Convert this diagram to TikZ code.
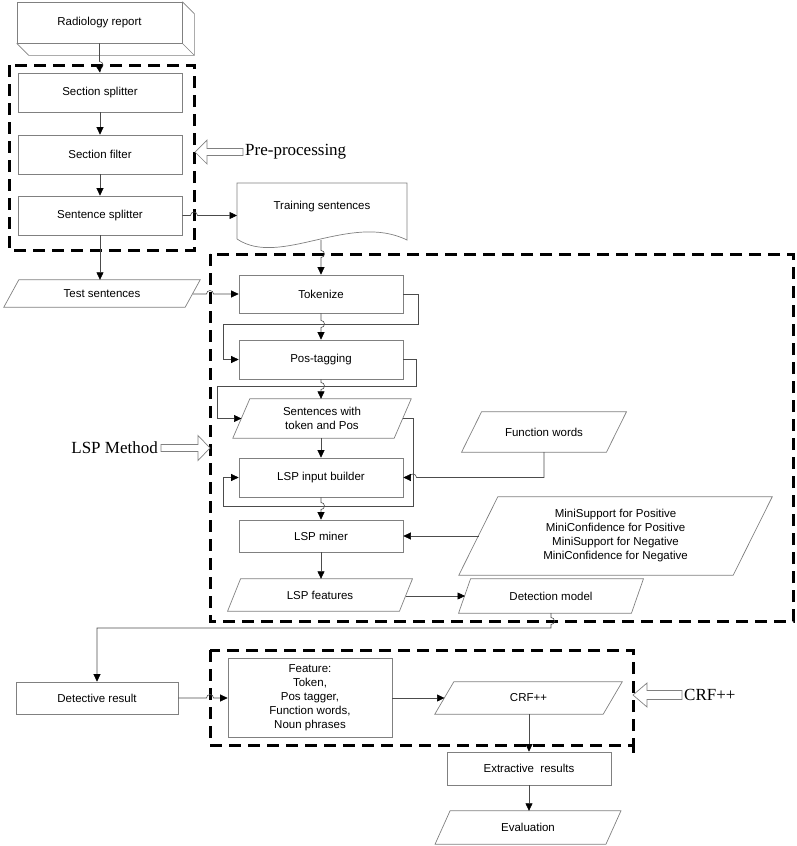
\documentclass[tikz,border=0pt]{standalone}
\usepackage{fontspec}
\setmainfont{Liberation Sans}
\newfontfamily\tms{Liberation Serif}
\usetikzlibrary{arrows.meta,calc}
\definecolor{boxc}{gray}{0.5}
\definecolor{connc}{gray}{0.3}
\newcommand{\parab}[2]{\draw[boxline] ([xshift=#2]#1.north west) -- ([xshift=#2]#1.north east) -- ([xshift=-#2]#1.south east) -- ([xshift=-#2]#1.south west) -- cycle;}
\tikzset{
  boxline/.style={draw=boxc,line width=0.7pt},
  txt/.style={font=\fontsize{11.5}{14}\selectfont,align=center,inner sep=0pt},
  procbox/.style={txt,draw=boxc,line width=0.7pt,rectangle,minimum width=#1},
  procbox/.default=164pt,
  paranode/.style={txt,rectangle,draw=none},
  conn/.style={draw=connc,line width=0.6pt,-{Triangle[length=7.5pt,width=7pt,color=black]}},
  plain/.style={draw=connc,line width=0.6pt},
  groupbox/.style={draw=black,line width=3pt,dash pattern=on 12pt off 7pt},
  blockarrow/.style={draw=boxc,fill=white,line width=0.7pt},
  biglabel/.style={font=\tms\fontsize{17}{20}\selectfont,inner sep=0pt}
}
\begin{document}
\begin{tikzpicture}[x=1pt,y=-1pt]
\useasboundingbox (0,0) rectangle (797,846);

% group boxes
\draw[groupbox] (9,65) rectangle (194,250);
\draw[groupbox] (210,254) rectangle (793,621);
\draw[groupbox] (210,650) rectangle (633,745);
\draw[groupbox] (633,745) -- (633,753);

% radiology report (3D box)
\node[procbox=165pt,minimum height=41pt] (rad) at (99.5,22.5) {Radiology report};
\draw[boxline] (rad.north east) -- ++(12pt,-12pt) -- ([shift={(12pt,-12pt)}]rad.south east) -- ([shift={(12pt,-12pt)}]rad.south west) -- (rad.south west);
\draw[boxline] (rad.south east) -- ++(12pt,-12pt);

% pre-processing
\node[procbox,minimum height=39pt] (ss) at (100,92.5) {Section splitter};
\node[procbox,minimum height=39pt] (sf) at (100,154.5) {Section filter};
\node[procbox,minimum height=39pt] (sent) at (100,215.5) {Sentence splitter};

% training sentences (document)
\draw[boxline] (237,239) -- (237,183) -- (407,183) -- (407,240) .. controls (350,212) and (280,268) .. (237,239);
\node[txt] (train) at (322,207) {Training sentences};
\coordinate (trainbot) at (321,240);
\coordinate (trainleft) at (237,215.5);

% test sentences
\node[paranode,minimum width=181pt,minimum height=27pt] (test) at (102,293.5) {Test sentences};
\parab{test}{7.5pt}

% LSP part
\node[procbox,minimum height=38pt] (tok) at (321,294) {Tokenize};
\node[procbox,minimum height=39pt] (pos) at (321,359.5) {Pos-tagging};
\node[paranode,minimum width=161pt,minimum height=39pt] (swt) at (322,418.5) {Sentences with\\token and Pos};
\parab{swt}{8.5pt}
\node[procbox,minimum height=39pt] (lib) at (321,477.5) {LSP input builder};
\node[procbox,minimum height=32pt] (miner) at (321,536) {LSP miner};
\node[paranode,minimum width=171.5pt,minimum height=32pt] (feat) at (320,595) {LSP features};
\parab{feat}{6.5pt}
\node[paranode,minimum width=144.5pt,minimum height=40pt] (fw) at (544,432) {Function words};
\parab{fw}{10pt}
\node[paranode,minimum width=274pt,minimum height=78pt] (mini) at (615.5,536) {MiniSupport for Positive\\MiniConfidence for Positive\\MiniSupport for Negative\\MiniConfidence for Negative};
\parab{mini}{19.5pt}
\node[paranode,minimum width=172.5pt,minimum height=34pt] (det) at (551,596) {Detection model};
\parab{det}{6pt}

% bottom part
\node[procbox=162pt,minimum height=32pt] (dres) at (97,698) {Detective result};
\node[procbox,minimum height=79pt] (featb) at (310,697.5) {Feature:\\Token,\\Pos tagger,\\Function words,\\Noun phrases};
\node[paranode,minimum width=168pt,minimum height=32pt] (crfp) at (528.5,698) {CRF++};
\parab{crfp}{9.5pt}
\node[procbox,minimum height=33pt] (ext) at (529,768.5) {Extractive\ \ results};
\node[paranode,minimum width=170.5pt,minimum height=33pt] (eval) at (528,827.5) {Evaluation};
\parab{eval}{7.5pt}

% block arrows and labels
\draw[blockarrow] (195,152) -- (207,140) -- (207,148.5) -- (243,148.5) -- (243,155.5) -- (207,155.5) -- (207,164) -- cycle;
\node[biglabel,anchor=west] (prelab) at (245,152) {Pre-processing};
\draw[blockarrow] (210,448) -- (198,435.5) -- (198,444.5) -- (161,444.5) -- (161,451.5) -- (198,451.5) -- (198,460.5) -- cycle;
\node[biglabel,anchor=east] (lsplab) at (158,448) {LSP Method};
\draw[blockarrow] (633,695) -- (647,683) -- (647,690.5) -- (682,690.5) -- (682,699.5) -- (647,699.5) -- (647,707) -- cycle;
\node[biglabel,anchor=west] (crflab) at (684,695) {CRF++};

% connectors
\draw[conn] (rad.south) -- (99.5,61.5) arc[start angle=90,end angle=-90,radius=3.5pt] -- (ss.north);
\draw[conn] (ss.south) -- (sf.north);
\draw[conn] (sf.south) -- (sent.north);
\draw[conn] (sent.south) -- (sent.south |- test.north);
\draw[conn] (sent.east) -- (190.5,215.5) arc[start angle=180,end angle=0,radius=3.5pt] -- (trainleft);
\draw[conn] (trainbot) -- (321,250.5) arc[start angle=90,end angle=-90,radius=3.5pt] -- (tok.north);
\draw[conn] (193,294) -- (206.5,294) arc[start angle=180,end angle=0,radius=3.5pt] -- (tok.west);
\draw[conn] (tok.south) -- (321,320.5) arc[start angle=90,end angle=-90,radius=3.5pt] -- (pos.north);
\draw[conn] (tok.east) -- (418,294) -- (418,324) -- (223,324) -- (223,359.5) -- (pos.west);
\draw[conn] (pos.south) -- (321,382.5) arc[start angle=90,end angle=-90,radius=3.5pt] -- (swt.north -| pos.south);
\draw[conn] (pos.east) -- (416,359.5) -- (416,386) -- (217,386) -- (217,418.5) -- (241.5,418.5);
\draw[conn] (swt.south -| lib.north) -- (lib.north);
\draw[conn] (403,418.5) -- (413,418.5) -- (413,506) -- (223,506) -- (223,477.5) -- (lib.west);
\draw[conn] (lib.south) -- (321,502.5) arc[start angle=90,end angle=-90,radius=3.5pt] -- (miner.north);
\draw[conn] (fw.south) -- (544,477.5) -- (416.5,477.5) arc[start angle=0,end angle=180,radius=3.5pt] -- (lib.east);
\draw[conn] (478.5,536) -- (miner.east);
\draw[conn] (miner.south) -- (miner.south |- feat.north);
\draw[conn] (406,596) -- (465,596);
\draw[conn] (det.south) -- (551,617.5) arc[start angle=90,end angle=-90,radius=3.5pt] -- (551,628) -- (97,628) -- (dres.north);
\draw[conn] (dres.east) -- (206.5,698) arc[start angle=180,end angle=0,radius=3.5pt] -- (featb.west |- dres.east);
\draw[conn] (featb.east |- crfp.west) -- (444.5,698);
\draw[conn] (crfp.south -| ext.north) -- (ext.north);
\draw[conn] (ext.south) -- (ext.south |- eval.north);
\end{tikzpicture}
\end{document}
